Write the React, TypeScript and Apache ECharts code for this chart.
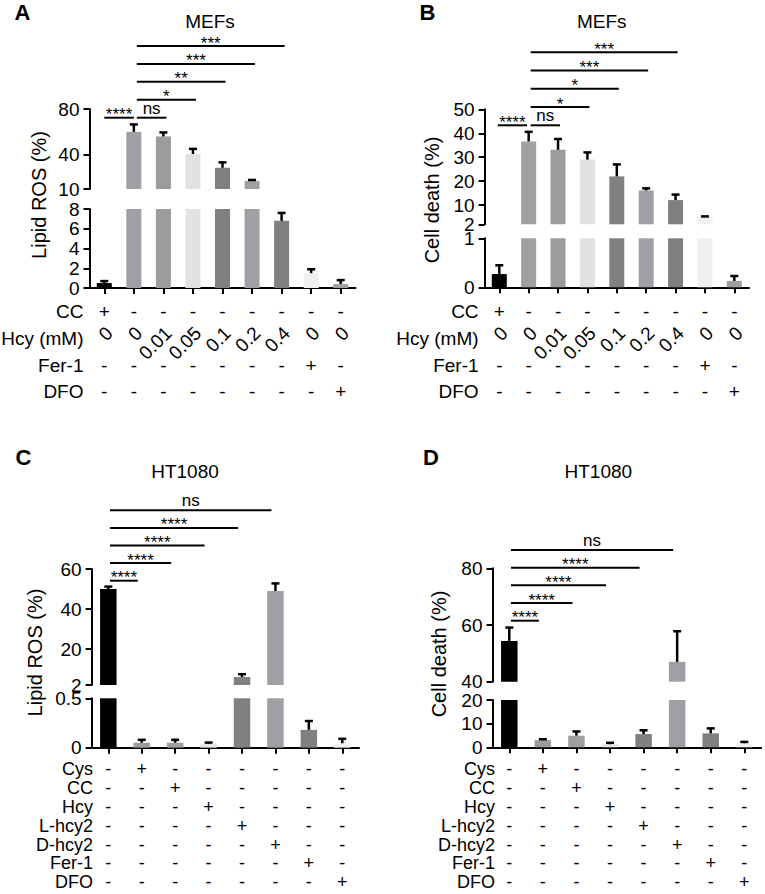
import React, { useEffect, useRef } from "react";
import * as echarts from "echarts";

const FONT = "Liberation Sans, Arial, Helvetica, sans-serif";

// ---------- categories ----------
const mefCategories = ["1", "2", "3", "4", "5", "6", "7", "8", "9"];
const htCategories = ["1", "2", "3", "4", "5", "6", "7", "8"];

// ---------- series values (mean, error) ----------
const lipidRosMEF = [0.5, 60, 56, 40.6, 28.6, 17, 6.8, 1.5, 0.4];
const lipidRosMEFErr = [0.2, 6.5, 3.5, 4.5, 4.7, 0.9, 0.8, 0.4, 0.4];
const cellDeathMEF = [0.27, 36.6, 33.1, 29, 22, 16.1, 12.1, 5, 0.13];
const cellDeathMEFErr = [0.18, 4, 4.5, 3, 5, 0.9, 2.3, 0.3, 0.1];
const lipidRosHT = [50, 0.05, 0.05, 0.037, 6, 49, 0.18, 0.045];
const lipidRosHTErr = [1.2, 0.03, 0.03, 0.015, 1.4, 3.8, 0.09, 0.045];
const cellDeathHT = [54.4, 3, 4.9, 1.3, 5.6, 47, 5.9, 1.7];
const cellDeathHTErr = [4.7, 0.4, 1.8, 0.6, 1.6, 10.8, 2.1, 0.6];

const mefColors = ["#000000", "#a0a0a4", "#9c9c9c", "#e2e2e2", "#808080", "#a0a0a4", "#808080", "#f0f0f0", "#a0a0a0"];
const htColors = ["#000000", "#9c9c9c", "#a0a0a0", "#e6e6e6", "#808080", "#a0a0a4", "#808080", "#efefef"];

// ---------- treatment tables ----------
const mefRows = ["CC", "Hcy (mM)", "Fer-1", "DFO"];
const mefCells = [
  ["+", "-", "-", "-", "-", "-", "-", "-", "-"],
  ["0", "0", "0.01", "0.05", "0.1", "0.2", "0.4", "0", "0"],
  ["-", "-", "-", "-", "-", "-", "-", "+", "-"],
  ["-", "-", "-", "-", "-", "-", "-", "-", "+"],
];
const htRows = ["Cys", "CC", "Hcy", "L-hcy2", "D-hcy2", "Fer-1", "DFO"];
const htCells = [
  ["-", "+", "-", "-", "-", "-", "-", "-"],
  ["-", "-", "+", "-", "-", "-", "-", "-"],
  ["-", "-", "-", "+", "-", "-", "-", "-"],
  ["-", "-", "-", "-", "+", "-", "-", "-"],
  ["-", "-", "-", "-", "-", "+", "-", "-"],
  ["-", "-", "-", "-", "-", "-", "+", "-"],
  ["-", "-", "-", "-", "-", "-", "-", "+"],
];

// ---------- significance brackets [from, to, level] ----------
const sigMEF = [[0, 1, 0], [1, 2, 0], [1, 3, 1], [1, 4, 2], [1, 5, 3], [1, 6, 4]];
const sigLipidMEFLabels = ["****", "ns", "*", "**", "***", "***"];
const sigDeathMEFLabels = ["****", "ns", "*", "*", "***", "***"];
const sigHT = [[0, 1, 0], [0, 2, 1], [0, 3, 2], [0, 4, 3], [0, 5, 4]];
const sigHTLabels = ["****", "****", "****", "****", "ns"];

// ---------- tick labels ----------
const ticksLipidMEFUpper = [10, 40, 80];
const ticksDeathMEFUpper = [2, 10, 20, 30, 40, 50];
const ticksLipidHTUpper = [2, 20, 40, 60];
const ticksDeathHTUpper = [40, 60, 80];

type Panel = {
  cats: string[];
  values: number[];
  errors: number[];
  colors: string[];
  upper: { min: number; max: number; ticks: number[] };
  lower: { max: number; interval: number };
  sig: number[][];
  sigLabels: string[];
  rows: string[];
  cells: string[][];
  rotateRow: number;
  L: any;
};

const panels: Panel[] = [
  {
    cats: mefCategories, values: lipidRosMEF, errors: lipidRosMEFErr, colors: mefColors,
    upper: { min: 10, max: 80, ticks: ticksLipidMEFUpper }, lower: { max: 8, interval: 2 },
    sig: sigMEF, sigLabels: sigLipidMEFLabels, rows: mefRows, cells: mefCells, rotateRow: 1,
    L: { left: 89.5, width: 266, upperTop: 109, upperH: 80, lowerTop: 209, lowerH: 79,
      annTop: 46, annH: 71.7, tabTop: 298.3, tabH: 107, barWidth: 15, rowMargin: 6, tabFont: 19,
      br0: [0, 0], br1: [3, 3] },
  },
  {
    cats: mefCategories, values: cellDeathMEF, errors: cellDeathMEFErr, colors: mefColors,
    upper: { min: 2, max: 50, ticks: ticksDeathMEFUpper }, lower: { max: 1, interval: 1 },
    sig: sigMEF, sigLabels: sigDeathMEFLabels, rows: mefRows, cells: mefCells, rotateRow: 1,
    L: { left: 484.6, width: 264.4, upperTop: 109.3, upperH: 115, lowerTop: 238.3, lowerH: 49,
      annTop: 52.3, annH: 73, tabTop: 298.3, tabH: 107, barWidth: 15, rowMargin: 6, tabFont: 19,
      br0: [-1.6, -1.6], br1: [2, 2] },
  },
  {
    cats: htCategories, values: lipidRosHT, errors: lipidRosHTErr, colors: htColors,
    upper: { min: 2, max: 60, ticks: ticksLipidHTUpper }, lower: { max: 0.5, interval: 0.5 },
    sig: sigHT, sigLabels: sigHTLabels, rows: htRows, cells: htCells, rotateRow: -1,
    L: { left: 91.6, width: 267.4, upperTop: 569, upperH: 116, lowerTop: 698.3, lowerH: 49.4,
      annTop: 510.3, annH: 70.4, tabTop: 759.5, tabH: 132.3, barWidth: 16.5, rowMargin: -1.5, tabFont: 18,
      br0: [1.7, -4], br1: [1.7, -4] },
  },
  {
    cats: htCategories, values: cellDeathHT, errors: cellDeathHTErr, colors: htColors,
    upper: { min: 40, max: 80, ticks: ticksDeathHTUpper }, lower: { max: 20, interval: 10 },
    sig: sigHT, sigLabels: sigHTLabels, rows: htRows, cells: htCells, rotateRow: -1,
    L: { left: 492.5, width: 268.6, upperTop: 568.3, upperH: 113.4, lowerTop: 700, lowerH: 47.3,
      annTop: 550, annH: 70.7, tabTop: 759.5, tabH: 132.3, barWidth: 16.5, rowMargin: -2.5, tabFont: 18,
      br0: [1.7, -4], br1: [1.7, -4] },
  },
];

const lineStyle = { color: "#000", width: 2 };

function addPanel(p: Panel, opt: any) {
  const gi = opt.grid.length;
  const L = p.L;
  const gridDefs = [
    [L.upperTop, L.upperH],
    [L.lowerTop, L.lowerH],
    [L.annTop, L.annH],
    [L.tabTop, L.tabH],
  ];
  gridDefs.forEach(([top, height], k) => {
    opt.grid.push({ left: L.left, width: L.width, top, height, containLabel: false, outerBoundsMode: "none" });
    opt.xAxis.push({
      type: "category", gridIndex: gi + k, data: p.cats, boundaryGap: true, show: k === 1,
      axisLine: { show: true, onZero: false, lineStyle },
      axisTick: { show: true, alignWithLabel: true, length: 6, lineStyle },
      axisLabel: { show: false }, splitLine: { show: false },
    });
  });
  // y axes
  opt.yAxis.push({
    type: "value", gridIndex: gi, min: p.upper.min, max: p.upper.max,
    axisLine: { show: true, lineStyle },
    axisTick: { show: true, length: 6, lineStyle, customValues: p.upper.ticks },
    axisLabel: { color: "#000", fontSize: 19, fontFamily: FONT, margin: 10, customValues: p.upper.ticks },
    splitLine: { show: false },
  });
  opt.yAxis.push({
    type: "value", gridIndex: gi + 1, min: 0, max: p.lower.max, interval: p.lower.interval,
    axisLine: { show: true, lineStyle },
    axisTick: { show: true, length: 6, lineStyle },
    axisLabel: { color: "#000", fontSize: 19, fontFamily: FONT, margin: 10 },
    splitLine: { show: false },
  });
  opt.yAxis.push({ type: "value", gridIndex: gi + 2, min: 0, max: 4, show: false });
  opt.yAxis.push({
    type: "category", gridIndex: gi + 3, data: p.rows, inverse: true,
    axisLine: { show: false }, axisTick: { show: false }, splitLine: { show: false },
    axisLabel: { color: "#000", fontSize: L.tabFont, fontFamily: FONT, margin: L.rowMargin, interval: 0 },
  });

  const barData = p.values.map((v, i) => ({ value: v, itemStyle: { color: p.colors[i] } }));
  const errData = p.values.map((v, i) => [i, v, p.errors[i]]);
  const ranges = [
    [p.upper.min, p.upper.max],
    [0, p.lower.max],
  ];
  ranges.forEach(([lo, hi], k) => {
    opt.series.push({
      type: "bar", xAxisIndex: gi + k, yAxisIndex: gi + k, data: barData,
      barWidth: L.barWidth, clip: true, silent: true,
    });
    opt.series.push({
      type: "custom", xAxisIndex: gi + k, yAxisIndex: gi + k, data: errData, z: 5, silent: true,
      encode: { x: 0, y: 1 },
      renderItem: (params: any, api: any) => {
        const i = api.value(0);
        const v = api.value(1);
        const e = api.value(2);
        if (v < lo || v > hi) return null;
        const p0 = api.coord([i, v]);
        const p1 = api.coord([i, v + e]);
        const cap = 4;
        return {
          type: "group",
          children: [
            { type: "line", shape: { x1: p0[0], y1: p0[1], x2: p1[0], y2: p1[1] }, style: { stroke: "#000", lineWidth: 2.5 } },
            { type: "line", shape: { x1: p1[0] - cap, y1: p1[1], x2: p1[0] + cap, y2: p1[1] }, style: { stroke: "#000", lineWidth: 2.5 } },
          ],
        };
      },
    });
  });

  // significance brackets
  opt.series.push({
    type: "custom", xAxisIndex: gi + 2, yAxisIndex: gi + 2, silent: true, z: 5,
    data: p.sig.map((s) => [s[0], s[1], s[2]]),
    encode: { x: [0, 1], y: 2 },
    renderItem: (params: any, api: any) => {
      const from = api.value(0);
      const to = api.value(1);
      const level = api.value(2);
      const a = api.coord([from, level]);
      const b = api.coord([to, level]);
      const sh = from === 0 ? L.br0 : L.br1;
      const x1 = a[0] + sh[0];
      const x2 = b[0] + sh[1];
      const y = a[1];
      const label = p.sigLabels[params.dataIndex];
      const isNs = label === "ns";
      return {
        type: "group",
        children: [
          { type: "line", shape: { x1, y1: y, x2, y2: y }, style: { stroke: "#000", lineWidth: 2 } },
          {
            type: "text", x: (x1 + x2) / 2, y: isNs ? y - 9.5 : y - 3,
            style: { text: label, fill: "#000", fontSize: 17, fontFamily: FONT, align: "center", verticalAlign: "middle" },
          },
        ],
      };
    },
  });

  // treatment table
  const cellPos: number[][] = [];
  const cellText: string[] = [];
  p.cells.forEach((row, r) => row.forEach((t, c) => { cellPos.push([c, r]); cellText.push(t); }));
  opt.series.push({
    type: "custom", xAxisIndex: gi + 3, yAxisIndex: gi + 3, silent: true,
    data: cellPos, encode: { x: 0, y: 1 },
    renderItem: (params: any, api: any) => {
      const c = api.value(0);
      const r = api.value(1);
      const pt = api.coord([c, r]);
      const rot = r === p.rotateRow;
      return {
        type: "text",
        x: pt[0] + (rot ? 5 : 0),
        y: pt[1] + (rot ? -8.4 : 0),
        rotation: rot ? Math.PI / 4 : 0,
        style: {
          text: cellText[params.dataIndex], fill: "#000", fontSize: L.tabFont, fontFamily: FONT,
          align: rot ? "right" : "center", verticalAlign: "middle",
        },
      };
    },
  });
}

function txt(text: string, x: number, y: number, size: number, extra: any = {}) {
  return {
    type: "text", x, y, ...extra,
    style: { text, fill: "#000", fontSize: size, fontFamily: FONT, align: "center", verticalAlign: "middle", fontWeight: extra.bold ? "bold" : "normal" },
  };
}

function buildOption() {
  const opt: any = {
    animation: false,
    backgroundColor: "#fff",
    grid: [], xAxis: [], yAxis: [], series: [],
  };
  panels.forEach((p) => addPanel(p, opt));
  opt.graphic = [
    txt("A", 22.5, 12.5, 22, { bold: true }),
    txt("B", 427.5, 12.5, 22, { bold: true }),
    txt("C", 23.5, 457.5, 22, { bold: true }),
    txt("D", 431, 457.3, 22, { bold: true }),
    txt("MEFs", 210, 21, 19),
    txt("MEFs", 601.7, 21, 19),
    txt("HT1080", 185, 471.7, 19),
    txt("HT1080", 598.3, 471.7, 19),
    txt("Lipid ROS (%)", 39, 195, 20, { rotation: Math.PI / 2 }),
    txt("Cell death (%)", 432, 200, 20, { rotation: Math.PI / 2 }),
    txt("Lipid ROS (%)", 35, 652.5, 20, { rotation: Math.PI / 2 }),
    txt("Cell death (%)", 439, 654, 20, { rotation: Math.PI / 2 }),
  ];
  return opt;
}

export default function App() {
  const ref = useRef<HTMLDivElement>(null);
  useEffect(() => {
    const chart = echarts.init(ref.current!, null, { renderer: "svg" });
    chart.setOption(buildOption());
    return () => chart.dispose();
  }, []);
  return (
    <div
      ref={ref}
      style={{ position: "absolute", left: 0, top: 0, width: 765, height: 894, background: "#fff" }}
    />
  );
}
